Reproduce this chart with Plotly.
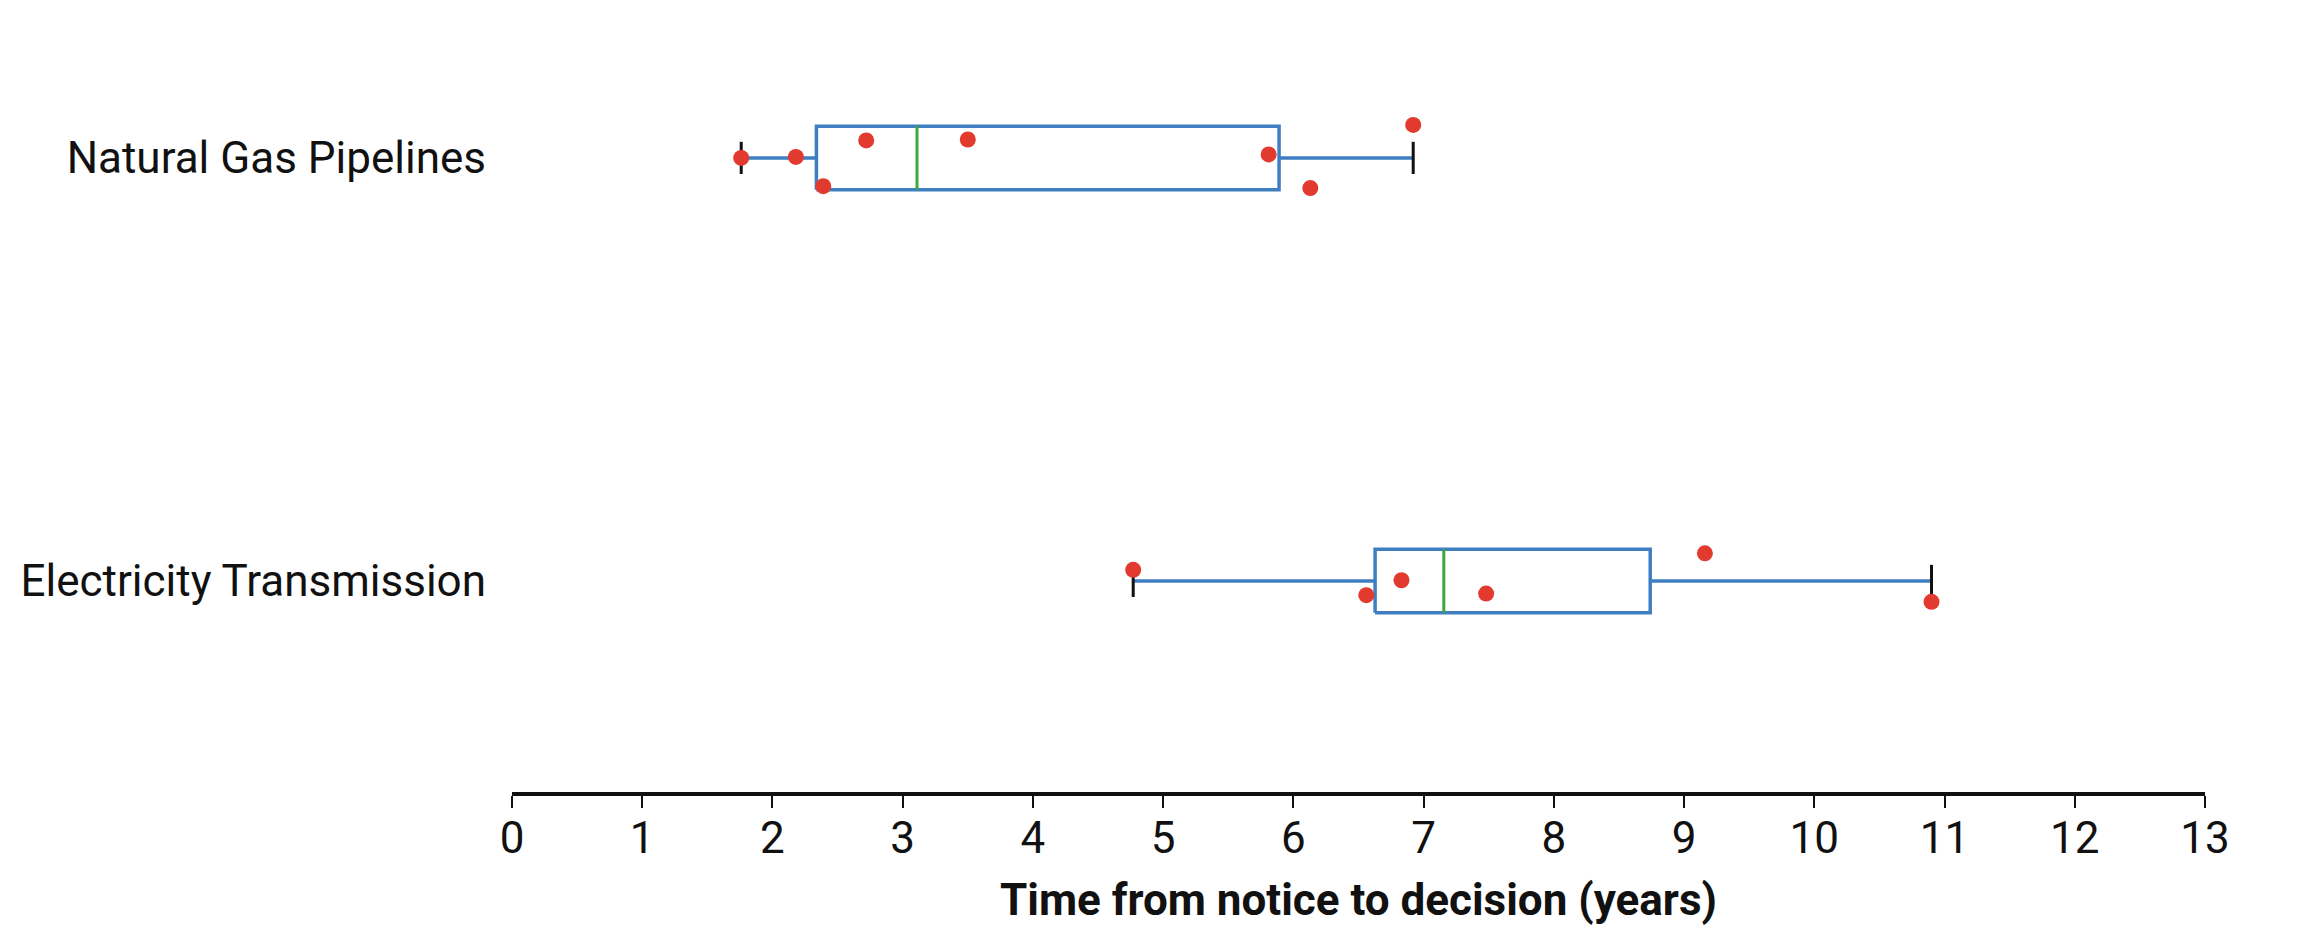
import numpy as np
import plotly.graph_objects as go

categories = ["Natural Gas Pipelines", "Electricity Transmission"]
gas_values = [1.76, 2.18, 2.39, 2.72, 3.50, 5.81, 6.13, 6.92]
elec_values = [4.77, 6.56, 6.83, 7.48, 9.16, 10.90]
# vertical scatter of points, as a fraction of the box half-height
gas_jitter = [0.0, 0.03, -0.89, 0.55, 0.58, 0.11, -0.95, 1.04]
elec_jitter = [0.35, -0.45, 0.02, -0.40, 0.87, -0.66]
x_ticks = list(range(0, 14))
x_title = "Time from notice to decision (years)"

BLUE = "#3f7fc1"
GREEN = "#3ca93c"
RED = "#e23a2e"
BLACK = "#111111"
HALF = 0.075      # box half height (y units)
CAP = 0.038       # whisker cap half height
FONT = "Roboto"

fig = go.Figure()

series = [(gas_values, gas_jitter, 1.0), (elec_values, elec_jitter, 0.0)]
for vals, jit, yc in series:
    v = np.array(vals)
    q1, med, q3 = np.percentile(v, [25, 50, 75], method="linear")
    iqr = q3 - q1
    lo = v[v >= q1 - 1.5 * iqr].min()
    hi = v[v <= q3 + 1.5 * iqr].max()
    # whiskers
    fig.add_trace(go.Scatter(x=[lo, q1, None, q3, hi], y=[yc, yc, None, yc, yc],
                             mode="lines", line=dict(color=BLUE, width=3.5),
                             hoverinfo="skip", showlegend=False))
    # caps
    fig.add_trace(go.Scatter(x=[lo, lo, None, hi, hi],
                             y=[yc - CAP, yc + CAP, None, yc - CAP, yc + CAP],
                             mode="lines", line=dict(color=BLACK, width=3),
                             hoverinfo="skip", showlegend=False))
    # box
    fig.add_trace(go.Scatter(x=[q1, q3, q3, q1, q1],
                             y=[yc - HALF, yc - HALF, yc + HALF, yc + HALF, yc - HALF],
                             mode="lines", line=dict(color=BLUE, width=3.5),
                             hoverinfo="skip", showlegend=False))
    # median
    fig.add_trace(go.Scatter(x=[med, med], y=[yc - HALF, yc + HALF],
                             mode="lines", line=dict(color=GREEN, width=3),
                             hoverinfo="skip", showlegend=False))
    # points
    fig.add_trace(go.Scatter(x=v, y=yc + np.array(jit) * HALF,
                             mode="markers", marker=dict(color=RED, size=16),
                             showlegend=False))

fig.update_layout(
    width=2300, height=930,
    margin=dict(l=493, r=103, t=12, b=146),
    plot_bgcolor="white", paper_bgcolor="white",
    font=dict(family=FONT, size=44, color=BLACK),
)
fig.update_xaxes(
    range=[0, 13], tickvals=x_ticks, ticktext=[str(t) for t in x_ticks],
    showgrid=False, zeroline=False,
    showline=True, linecolor=BLACK, linewidth=4,
    ticks="outside", ticklen=12, tickwidth=2, tickcolor=BLACK,
    tickfont=dict(family=FONT, size=44, color=BLACK),
    ticklabelstandoff=-8,
    title=dict(text="<b>" + x_title + "</b>", font=dict(family=FONT, size=44, color=BLACK), standoff=22),
)
fig.update_yaxes(
    range=[-0.499, 1.326], tickvals=[1.0, 0.0], ticktext=categories,
    showgrid=False, zeroline=False, showline=False, ticks="",
    tickfont=dict(family=FONT, size=44, color=BLACK),
    ticklabelstandoff=25,
)

fig.write_html("out.html")
